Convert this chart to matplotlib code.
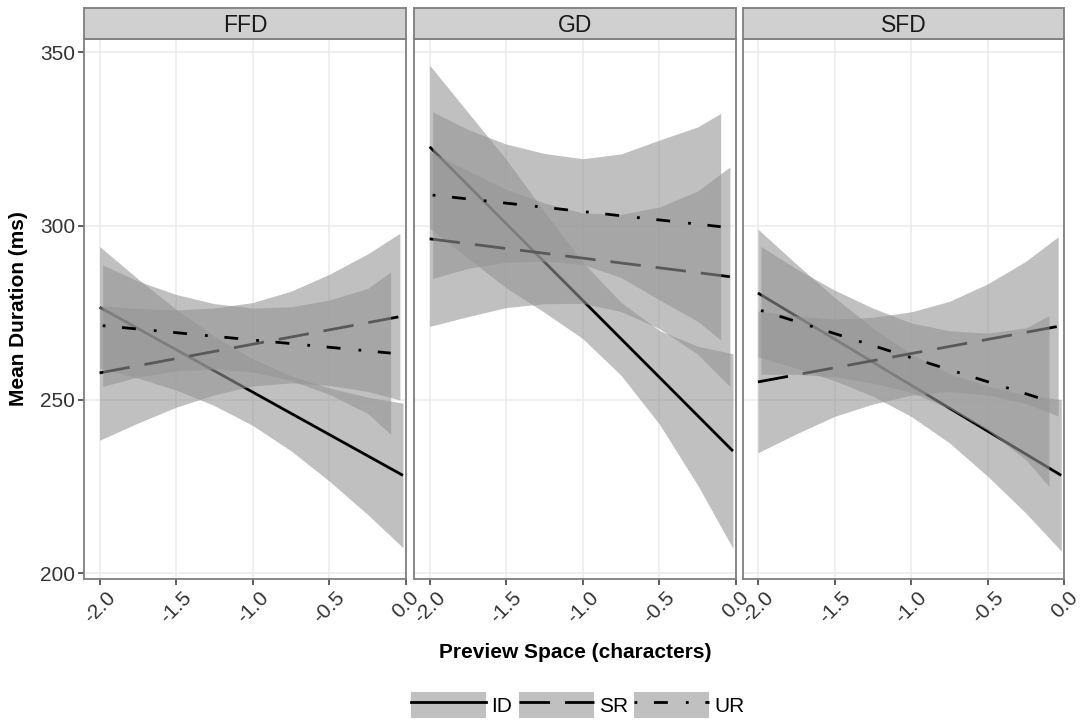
import numpy as np
import matplotlib.pyplot as plt
from matplotlib.lines import Line2D
from matplotlib.patches import Patch

plt.rcParams['font.family'] = ['Liberation Sans', 'DejaVu Sans']
plt.rcParams['axes.unicode_minus'] = False

panels = ["FFD", "GD", "SFD"]
groups = ["ID", "SR", "UR"]

# x range covered by each fitted line
x_start = {"ID": -2.0, "SR": -2.0, "UR": -1.98}
x_end = {"ID": -0.02, "SR": -0.04, "UR": -0.10}

# fitted value at start and end of each line
fit_ends = {
    "FFD": {"ID": (276.6, 228.2), "SR": (257.7, 273.9), "UR": (271.3, 263.4)},
    "GD":  {"ID": (322.8, 235.2), "SR": (296.3, 285.4), "UR": (308.9, 299.8)},
    "SFD": {"ID": (280.7, 228.2), "SR": (255.1, 271.1), "UR": (275.7, 249.6)},
}

# half width of the confidence band at:
# start, -1.75, -1.5, -1.25, -1.0, -0.75, -0.5, -0.25, end
band_x_inner = [-1.75, -1.5, -1.25, -1.0, -0.75, -0.5, -0.25]
band_half = {
    "FFD": {"ID": [17.5, 14.3, 11.6, 10.0, 9.6, 10.8, 13.4, 16.9, 20.8],
            "SR": [19.4, 16.5, 14.0, 12.5, 12.0, 13.2, 16.0, 19.8, 24.0],
            "UR": [17.5, 13.8, 11.0, 9.4, 9.2, 10.6, 13.6, 18.0, 23.4]},
    "GD":  {"ID": [23.5, 21.0, 18.5, 14.5, 11.0, 10.5, 13.5, 20.0, 28.0],
            "SR": [25.2, 21.0, 17.0, 14.5, 13.0, 14.0, 17.5, 23.5, 31.6],
            "UR": [24.0, 20.0, 17.0, 15.5, 15.2, 17.8, 23.0, 28.0, 32.6]},
    "SFD": {"ID": [18.4, 15.0, 12.0, 9.8, 9.0, 10.0, 13.0, 17.0, 21.8],
            "SR": [20.4, 17.0, 14.0, 12.5, 12.0, 13.0, 16.0, 20.5, 25.8],
            "UR": [18.4, 15.2, 12.5, 10.8, 10.0, 11.2, 14.0, 19.0, 24.6]},
}

x_ticks = [-2.0, -1.5, -1.0, -0.5, 0.0]
x_ticklabels = ["-2.0", "-1.5", "-1.0", "-0.5", "0.0"]
y_ticks = [200, 250, 300, 350]

dash_style = {"ID": None, "SR": (0, (11, 5.4)), "UR": (0, (1, 6, 5, 6.5))}
band_color = '#969696'
band_alpha = 0.6
lw = 2.0

W, H = 1085, 724
fig = plt.figure(figsize=(W / 100, H / 100), dpi=100)

panel_left = [84.3, 414.3, 742.6]
panel_w = 321.7
panel_top, panel_bot = 39.3, 578.7
strip_top = 8.3

for i, name in enumerate(panels):
    ax = fig.add_axes([panel_left[i] / W, 1 - panel_bot / H,
                       panel_w / W, (panel_bot - panel_top) / H])
    z = 3
    for g in groups:
        xs, xe = x_start[g], x_end[g]
        y0, y1 = fit_ends[name][g]
        xr = [xs] + band_x_inner + [xe]
        fit = np.interp(xr, [xs, xe], [y0, y1])
        hw = np.array(band_half[name][g])
        ax.fill_between(xr, fit - hw, fit + hw, color=band_color,
                        alpha=band_alpha, linewidth=0, zorder=z)
        line, = ax.plot([xs, xe], [y0, y1], color='black', lw=lw,
                        solid_capstyle='butt', dash_capstyle='butt', zorder=z + 1)
        if dash_style[g] is not None:
            line.set_linestyle(dash_style[g])
        z += 2

    ax.set_xlim(-2.1, 0.0)
    ax.set_ylim(198.45, 353.75)
    ax.set_xticks(x_ticks)
    ax.set_xticklabels(x_ticklabels, rotation=45, fontsize=15, color='#333333')
    ax.set_yticks(y_ticks)
    if i == 0:
        ax.set_yticklabels([str(v) for v in y_ticks], fontsize=15, color='#333333')
        ax.tick_params(axis='y', length=4.5, width=1.1, color='#333333', pad=2)
    else:
        ax.tick_params(axis='y', length=0, labelleft=False)
    ax.tick_params(axis='x', length=4.5, width=1.1, color='#333333', pad=2)
    ax.grid(True, color='#EBEBEB', lw=1.1, zorder=0)
    ax.set_axisbelow(True)
    for sp in ax.spines.values():
        sp.set_color('#7F7F7F')
        sp.set_linewidth(1.3)
        sp.set_zorder(20)

    # facet strip
    sax = fig.add_axes([panel_left[i] / W, 1 - panel_top / H,
                        panel_w / W, (panel_top - strip_top) / H])
    sax.set_facecolor('#D0D0D0')
    sax.set_xticks([])
    sax.set_yticks([])
    for sp in sax.spines.values():
        sp.set_color('#7F7F7F')
        sp.set_linewidth(1.3)
    sax.text(0.5, 0.45, name, ha='center', va='center', fontsize=16.5,
             color='#1A1A1A', transform=sax.transAxes)

fig.text(575 / W, 1 - 652 / H, "Preview Space (characters)", ha='center',
         va='center', fontsize=15, fontweight='bold')
fig.text(18 / W, 1 - 309 / H, "Mean Duration (ms)", ha='center', va='center',
         rotation=90, fontsize=15, fontweight='bold')

handles = []
for g in groups:
    p = Patch(facecolor=band_color, alpha=band_alpha, edgecolor='none')
    ln = Line2D([], [], color='black', lw=lw, dash_capstyle='butt')
    if dash_style[g] is not None:
        ln.set_linestyle(dash_style[g])
    handles.append((p, ln))

fig.legend(handles, groups, loc='center', bbox_to_anchor=(578 / W, 1 - 705 / H),
           ncol=3, frameon=False, fontsize=15, handlelength=3.6,
           handleheight=1.6, handletextpad=0.25, columnspacing=0.3,
           borderaxespad=0)

fig.savefig('out.png', dpi=100)
